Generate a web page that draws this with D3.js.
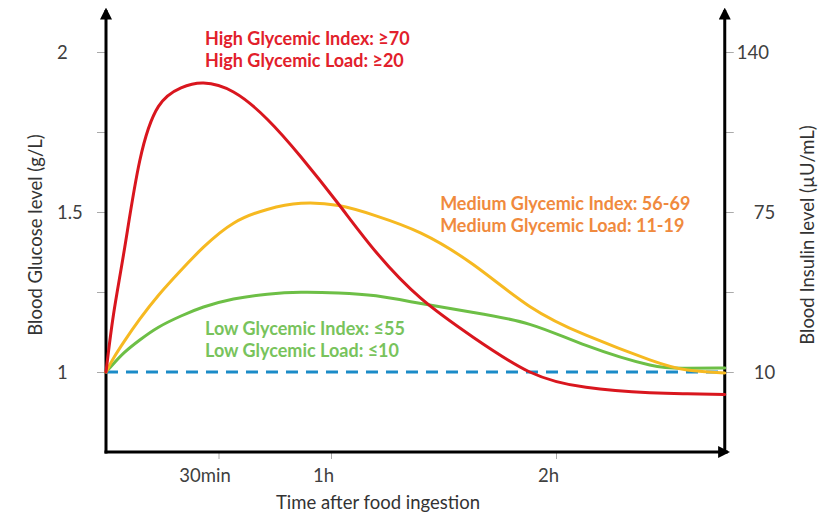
<!DOCTYPE html>
<html>
<head>
<meta charset="utf-8">
<script src="https://cdn.jsdelivr.net/npm/d3@7"></script>
<style>
  html, body { margin: 0; padding: 0; background: #fff; }
  svg { display: block; }
  text { font-family: Lato, "Open Sans", sans-serif; }
</style>
</head>
<body>
<svg id="chart" width="830" height="512"></svg>
<script>
// ---- data ----
const timeMinutes = [0, 2, 5, 9, 14, 20, 26, 34, 43, 52, 62, 72, 84, 98, 113, 128, 145, 155, 165];
const highGI   = [1.0, 1.18, 1.39, 1.66, 1.83, 1.888, 1.903, 1.875, 1.79, 1.672, 1.525, 1.375, 1.23, 1.108, 1.0, 0.952, 0.935, 0.932, 0.93];
const mediumGI = [1.0, 1.043, 1.098, 1.165, 1.24, 1.318, 1.39, 1.465, 1.508, 1.527, 1.52, 1.488, 1.434, 1.335, 1.205, 1.115, 1.038, 1.006, 0.997];
const lowGI    = [1.0, 1.026, 1.062, 1.1, 1.14, 1.175, 1.203, 1.228, 1.243, 1.249, 1.247, 1.238, 1.214, 1.186, 1.149, 1.083, 1.022, 1.012, 1.0125];
const baselineTime = [0, 165];
const baselineValue = [1, 1];

const xTickValues = [30, 60, 120];
const xTickLabels = ["30min", "1h", "2h"];
const glucoseTicks = [1, 1.25, 1.5, 1.75, 2];
const glucoseLabels = ["1", "", "1.5", "", "2"];
const insulinTicks = [10, 42.5, 75, 107.5, 140];
const insulinLabels = ["10", "", "75", "", "140"];

const annotations = [
  { lines: ["High Glycemic Index: \u226570", "High Glycemic Load: \u226520"], t: 26.4, v: 2.022, color: "#e2202b" },
  { lines: ["Medium Glycemic Index: 56-69", "Medium Glycemic Load: 11-19"], t: 89.1, v: 1.506, color: "#f08a3e" },
  { lines: ["Low Glycemic Index: \u226455", "Low Glycemic Load: \u226410"], t: 26.4, v: 1.116, color: "#78c35c" }
];

// ---- scales ----
const svg = d3.select("#chart");
const x = d3.scaleLinear().domain([0, 165]).range([106, 724.75]);
const y = d3.scaleLinear().domain([0.75, 2.125]).range([452, 12]);
const y2 = d3.scaleLinear().domain([-22.5, 156.25]).range([452, 12]);

// arrow marker
const defs = svg.append("defs");
defs.append("marker").attr("id", "arrow")
  .attr("viewBox", "0 0 10 10").attr("refX", 8).attr("refY", 5)
  .attr("markerWidth", 4).attr("markerHeight", 4).attr("orient", "auto")
  .append("path").attr("d", "M0,0 L10,5 L0,10 z").attr("fill", "#000");

const tickFont = "18.5px";

// ---- axes ticks ----
const leftAxis = d3.axisLeft(y).tickValues(glucoseTicks).tickSize(9)
  .tickFormat((d, i) => glucoseLabels[i]);
const gL = svg.append("g").attr("transform", `translate(${x(0)},0)`).call(leftAxis);
gL.select(".domain").remove();
gL.selectAll(".tick line").attr("stroke", "#aaa").attr("stroke-width", 1);
gL.selectAll(".tick text").attr("x", 57 - x(0)).attr("text-anchor", "start")
  .attr("fill", "#404040").style("font-size", tickFont).attr("dy", "0.36em");

const rightAxis = d3.axisRight(y2).tickValues(insulinTicks).tickSize(9)
  .tickFormat((d, i) => insulinLabels[i]);
const gR = svg.append("g").attr("transform", `translate(${x(165)},0)`).call(rightAxis);
gR.select(".domain").remove();
gR.selectAll(".tick line").attr("stroke", "#aaa").attr("stroke-width", 1);
gR.selectAll(".tick text").attr("x", d => d >= 100 ? 12 : 29).attr("text-anchor", "start")
  .attr("fill", "#404040").style("font-size", tickFont).attr("dy", "0.36em");

const bottomAxis = d3.axisBottom(x).tickValues(xTickValues).tickSize(7)
  .tickFormat((d, i) => xTickLabels[i]);
const gB = svg.append("g").attr("transform", `translate(0,${y(0.75)})`).call(bottomAxis);
gB.select(".domain").remove();
gB.selectAll(".tick line").attr("stroke", "#aaa").attr("stroke-width", 1);
gB.selectAll(".tick text").attr("y", 17).attr("dx", (d, i) => i === 0 ? -14 : -8)
  .attr("fill", "#404040").style("font-size", tickFont).attr("dy", "0.71em");

// ---- axis lines with arrows ----
const axisStyle = g => g.attr("stroke", "#000").attr("stroke-width", 3).attr("fill", "none");
svg.append("line").attr("x1", x(0)).attr("y1", y(0.75) + 1.5).attr("x2", x(0)).attr("y2", y(2.125) - 2)
  .call(axisStyle).attr("marker-end", "url(#arrow)");
svg.append("line").attr("x1", x(0) - 1.5).attr("y1", y(0.75)).attr("x2", x(165) + 3).attr("y2", y(0.75))
  .call(axisStyle).attr("marker-end", "url(#arrow)");
svg.append("line").attr("x1", x(165)).attr("y1", y(0.75) + 1.5).attr("x2", x(165)).attr("y2", y(2.125) - 2)
  .call(axisStyle).attr("marker-end", "url(#arrow)");

// ---- lines ----
const line = d3.line().x(d => x(d[0])).y(d => y(d[1])).curve(d3.curveNatural);

svg.append("path").datum(baselineTime.map((t, i) => [t, baselineValue[i]]))
  .attr("d", d3.line().x(d => x(d[0])).y(d => y(d[1])))
  .attr("fill", "none").attr("stroke", "#1b8bc8").attr("stroke-width", 3)
  .attr("stroke-dasharray", "12,8");

const series = [
  { values: lowGI, color: "#6dbf46" },
  { values: mediumGI, color: "#f6b921" },
  { values: highGI, color: "#d9161e" }
];
series.forEach(s => {
  svg.append("path").datum(timeMinutes.map((t, i) => [t, s.values[i]]))
    .attr("d", line).attr("fill", "none").attr("stroke", s.color).attr("stroke-width", 3)
    .attr("stroke-linejoin", "round").attr("stroke-linecap", "round");
});

// ---- annotations ----
annotations.forEach(a => {
  const t = svg.append("text").attr("x", x(a.t)).attr("y", y(a.v))
    .attr("fill", a.color).style("font-size", "18px").style("font-weight", "bold");
  a.lines.forEach((l, i) => {
    t.append("tspan").attr("x", x(a.t)).attr("dy", i === 0 ? 0 : 22).text(l);
  });
});

// ---- axis titles ----
svg.append("text").attr("x", 378).attr("y", 509).attr("text-anchor", "middle")
  .attr("fill", "#333").style("font-size", tickFont).text("Time after food ingestion");
svg.append("text").attr("transform", "translate(42,235) rotate(-90)").attr("text-anchor", "middle")
  .attr("fill", "#333").style("font-size", tickFont).text("Blood Glucose level (g/L)");
svg.append("text").attr("transform", "translate(814,235) rotate(-90)").attr("text-anchor", "middle")
  .attr("fill", "#333").style("font-size", tickFont).text("Blood Insulin level (\u00b5U/mL)");
</script>
</body>
</html>
